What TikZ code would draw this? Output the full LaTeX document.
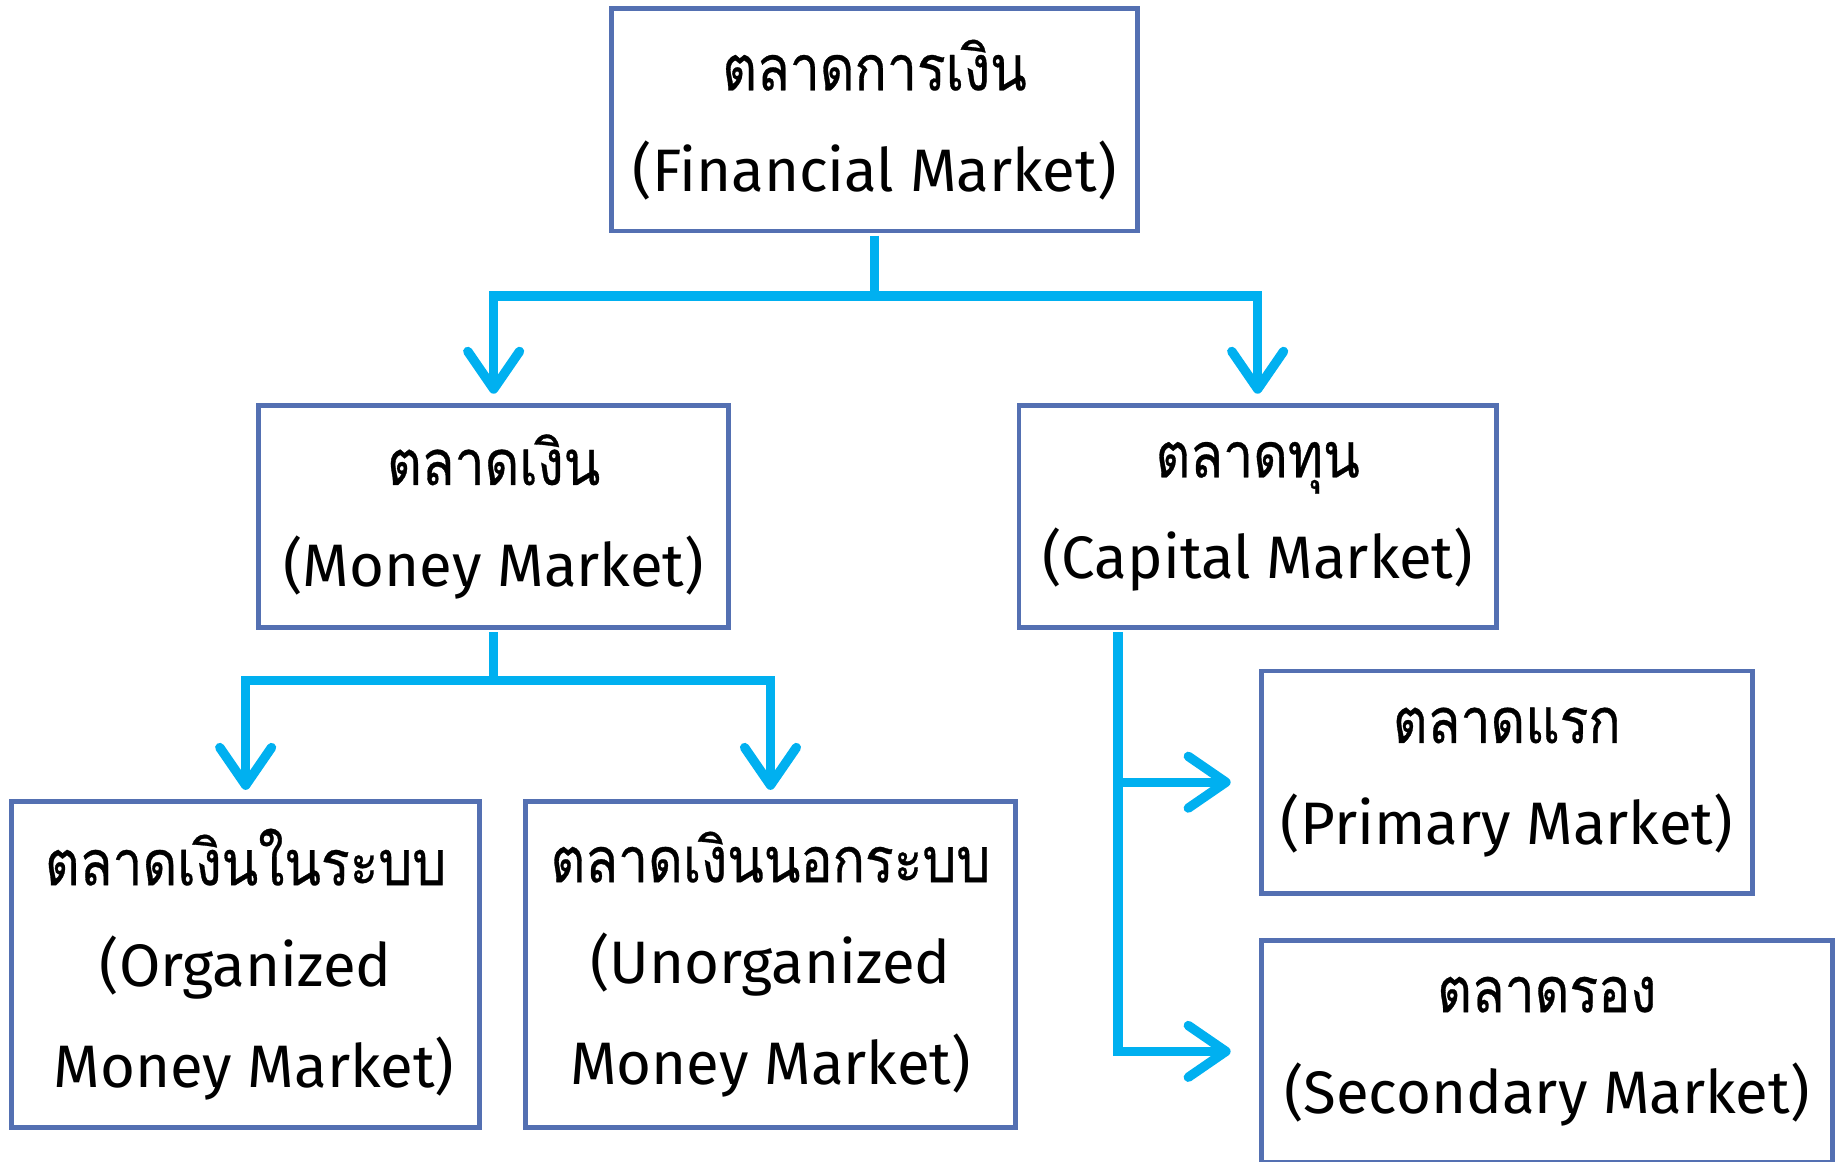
\documentclass[tikz,border=0pt]{standalone}
\usepackage{fontspec}
\setmainfont{Fira Sans}
\newfontfamily\thaifont[Script=Thai, Scale=1.05, FakeStretch=0.85, FakeBold=0.5]{Loma}
\usetikzlibrary{arrows.meta}
\definecolor{boxblue}{RGB}{84,112,178}
\definecolor{linkcyan}{RGB}{0,176,240}
\begin{document}
\begin{tikzpicture}[x=0.5pt,y=-0.5pt,
  mbox/.style={draw=boxblue, line width=2pt, fill=white, inner sep=0pt, align=center,
    font=\fontsize{25.5}{43}\selectfont},
  conn/.style={draw=linkcyan, line width=4pt},
  stub/.style={conn, shorten <=1pt},
  arr/.style={-{Straight Barb[length=16pt,width=22pt,round]}, shorten >=4pt}]
\useasboundingbox (0,0) rectangle (1568,988);
\node[mbox, minimum width=224pt, minimum height=94.5pt] (fin) at (744,102)
  {{\thaifont ตลาดการเงิน}\\(Financial Market)};
\node[mbox, minimum width=200pt, minimum height=94.5pt] (money) at (420,439.5)
  {{\thaifont ตลาดเงิน}\\(Money Market)};
\node[mbox, minimum width=203pt, minimum height=94.5pt] (capital) at (1070,439.5)
  {{\thaifont ตลาดทุน}\\(Capital Market)};
\node[mbox, minimum width=199pt, minimum height=138.5pt] (org) at (209,820.5)
  {{\thaifont ตลาดเงินในระบบ}\\(Organized\\\hspace*{7pt}Money Market)};
\node[mbox, minimum width=208.5pt, minimum height=138.5pt] (unorg) at (655.5,820.5)
  {{\thaifont ตลาดเงินนอกระบบ}\\(Unorganized\\Money Market)};
\node[mbox, minimum width=209pt, minimum height=94.5pt] (primary) at (1282,665.5)
  {{\thaifont ตลาดแรก}\\(Primary Market)};
\node[mbox, minimum width=243pt, minimum height=94.5pt] (secondary) at (1316,894.5)
  {{\thaifont ตลาดรอง}\\(Secondary Market)};
% connectors
\coordinate (j1) at (744,252);
\draw[stub] (fin.south) -- ([yshift=-2pt]j1);
\draw[conn,arr] (j1) -| (money.north);
\draw[conn,arr] (j1) -| (capital.north);
\coordinate (j2) at (money.south |- 0,579);
\draw[stub] (money.south) -- ([yshift=-2pt]j2);
\draw[conn,arr] (j2) -| (org.north);
\draw[conn,arr] (j2) -| (unorg.north);
\coordinate (c0) at (capital.south -| 951,0);
\draw[stub,arr, shorten >=12pt] (c0) |- (secondary.west);
\draw[conn,arr, shorten >=12pt] (primary.west -| 951,0) -- (primary.west);
\end{tikzpicture}
\end{document}
